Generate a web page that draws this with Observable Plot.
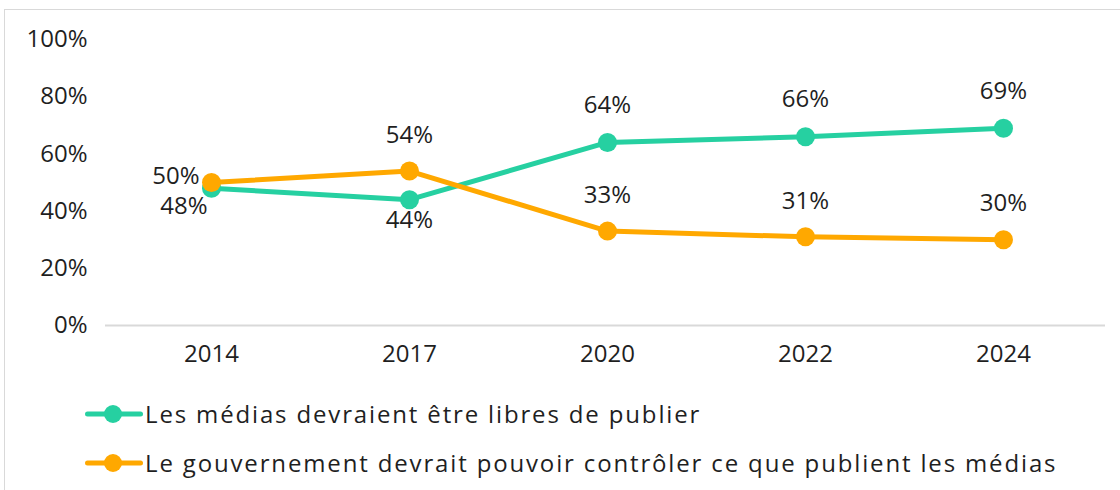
<!DOCTYPE html>
<html>
<head>
<meta charset="utf-8">
<script src="https://cdn.jsdelivr.net/npm/d3@7"></script>
<script src="https://cdn.jsdelivr.net/npm/@observablehq/plot@0.6"></script>
<style>
  html, body { margin: 0; padding: 0; background: #fff; width: 1120px; height: 490px; overflow: hidden; }
  body { position: relative; font-family: "Open Sans", sans-serif; color: #1f1f1f; }
  #frame { position: absolute; left: 4px; top: 9px; width: 1200px; height: 600px; border: 1px solid #d9d9d9; box-sizing: border-box; }
  #chart { position: absolute; left: 0; top: 0; }
  #legend { position: absolute; left: 85px; top: 389px; font-size: 24px; letter-spacing: 1.85px; }
  .item { display: flex; align-items: center; height: 49px; white-space: nowrap; }
  .item svg { margin-right: 2px; }
</style>
</head>
<body>
<div id="frame"></div>
<div id="chart"></div>
<div id="legend"></div>
<script>
const years = ["2014", "2017", "2020", "2022", "2024"];
const seriesNames = [
  "Les médias devraient être libres de publier",
  "Le gouvernement devrait pouvoir contrôler ce que publient les médias"
];
const freeValues = [48, 44, 64, 66, 69];
const controlValues = [50, 54, 33, 31, 30];
const yTicks = [0, 20, 40, 60, 80, 100];
const colors = ["#26D0A1", "#FFA800"];

const rows = [];
years.forEach((y, i) => {
  rows.push({ year: y, value: freeValues[i], series: seriesNames[0], i });
  rows.push({ year: y, value: controlValues[i], series: seriesNames[1], i });
});
const free = rows.filter(d => d.series === seriesNames[0]);
const ctrl = rows.filter(d => d.series === seriesNames[1]);
const fmt = d => d.value + "%";
const FS = 24;

const chart = Plot.plot({
  width: 1120,
  height: 390,
  marginLeft: 111,
  marginRight: 18,
  marginTop: 39,
  marginBottom: 65,
  style: { fontFamily: "Open Sans, sans-serif", fontSize: FS + "px", color: "#1f1f1f", background: "transparent", overflow: "visible" },
  x: { type: "band", domain: years, padding: 0, axis: null },
  y: { domain: [0, 100], axis: null },
  marks: [
    Plot.ruleY([0], { stroke: "#d9d9d9", strokeWidth: 2, insetLeft: -6, insetRight: -3 }),
    Plot.axisY({ ticks: yTicks, tickSize: 0, tickPadding: 24, tickFormat: d => d + "%", fontSize: FS, label: null }),
    Plot.axisX({ tickSize: 0, tickPadding: 19, fontSize: FS, label: null }),
    Plot.line(free, { x: "year", y: "value", stroke: colors[0], strokeWidth: 5 }),
    Plot.line(ctrl, { x: "year", y: "value", stroke: colors[1], strokeWidth: 5 }),
    Plot.dot(free, { x: "year", y: "value", fill: colors[0], r: 9.5 }),
    Plot.dot(ctrl, { x: "year", y: "value", fill: colors[1], r: 9.5 }),
    // labels: free series
    Plot.text(free.filter(d => d.i >= 2), { x: "year", y: "value", text: fmt, dy: -37, fontSize: FS }),
    Plot.text(free.filter(d => d.i === 1), { x: "year", y: "value", text: fmt, dy: 21, fontSize: FS }),
    Plot.text(free.filter(d => d.i === 0), { x: "year", y: "value", text: fmt, dy: 18, dx: -4, textAnchor: "end", fontSize: FS }),
    // labels: control series
    Plot.text(ctrl.filter(d => d.i >= 1), { x: "year", y: "value", text: fmt, dy: -36, fontSize: FS }),
    Plot.text(ctrl.filter(d => d.i === 0), { x: "year", y: "value", text: fmt, dy: -6, dx: -12, textAnchor: "end", fontSize: FS })
  ]
});
document.getElementById("chart").appendChild(chart);

const legend = document.getElementById("legend");
seriesNames.forEach((name, k) => {
  const item = document.createElement("div");
  item.className = "item";
  item.innerHTML = `<svg width="58" height="22"><line x1="2.5" y1="11" x2="55.5" y2="11" stroke="${colors[k]}" stroke-width="5" stroke-linecap="round"/><circle cx="28" cy="11" r="9" fill="${colors[k]}"/></svg><span>${name}</span>`;
  legend.appendChild(item);
});
</script>
</body>
</html>
